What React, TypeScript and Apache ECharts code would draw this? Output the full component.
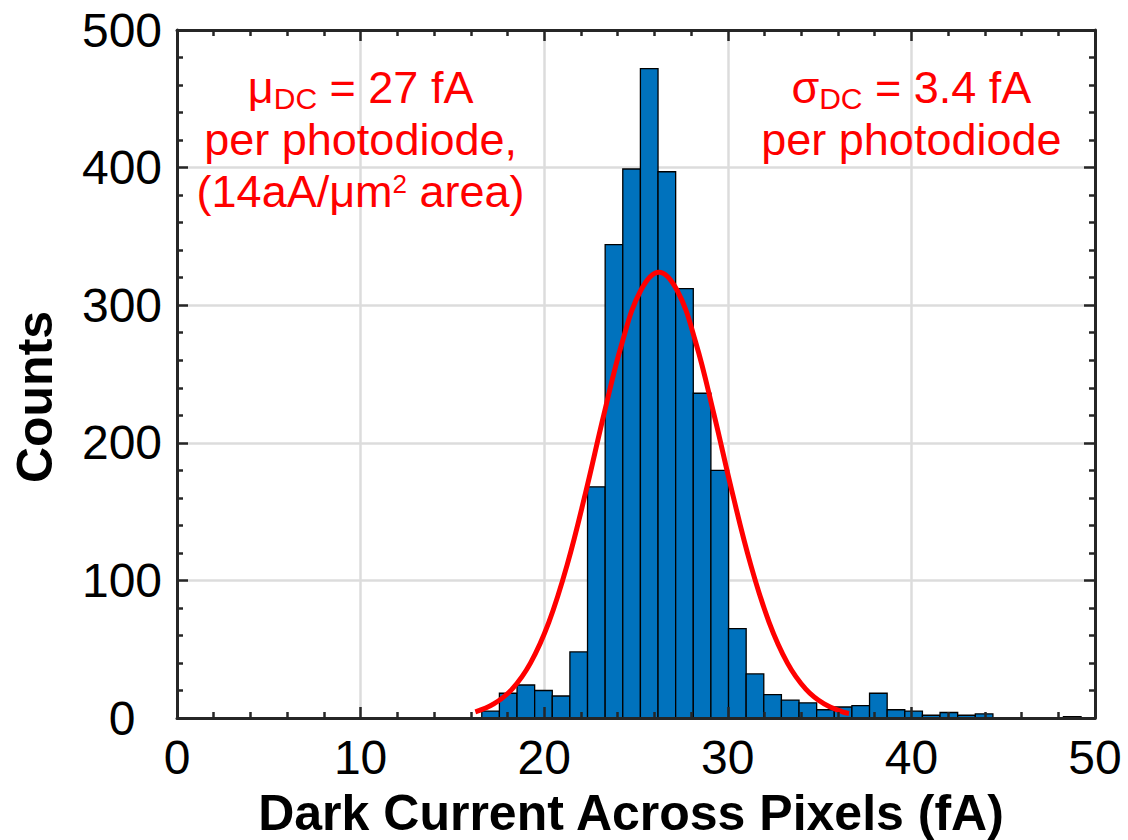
import React, { useEffect, useRef } from "react";
import * as echarts from "echarts";

// Histogram of dark current per pixel (fA), fixed-width bins
const binStart = 16.6;
const binWidth = 0.96;
const binCounts = [
  5, 18, 24, 20, 16, 48, 168, 344, 399, 472, 397, 312, 236, 180, 65, 32, 17,
  13, 11, 6, 8, 9, 18, 6, 5, 2, 4, 2, 3, 0, 0, 0, 0, 1,
];

// Gaussian fit curve, sampled points [fA, counts]
const fitX = [
  16.25, 17.25, 18.25, 19.25, 20.25, 21.25, 22.25, 23.25, 24.25, 25.25, 26.25,
  27.25, 28.25, 29.25, 30.25, 31.25, 32.25, 33.25, 34.25, 35.25, 36.25, 36.6,
];
const fitY = [
  4.5, 10.2, 21.0, 39.9, 69.5, 111.3, 163.5, 220.5, 273.1, 310.5, 324,
  310.5, 273.1, 220.5, 163.5, 111.3, 69.5, 39.9, 21.0, 10.2, 4.5, 3.3,
];

// Axis ranges and tick steps
const xRange = [0, 50];
const xStep = 10;
const yRange = [0, 500];
const yStep = 100;

const FONT = '"Liberation Sans", Arial, Helvetica, sans-serif';
const RED = "#FF0000";
const FRAME = "#262626";

const GRID = { left: 177, top: 30, right: 33, bottom: 122 };

function frameAxis(position: string, z = 10) {
  return {
    type: "value",
    position,
    min: 0,
    max: 0,
    z,
    axisLine: { show: true, onZero: false, lineStyle: { color: FRAME, width: 3 } },
    axisTick: { show: true, inside: true, length: 11, lineStyle: { color: FRAME, width: 2.5 } },
    minorTick: { show: true, splitNumber: 5, length: 6, lineStyle: { color: FRAME, width: 2.5 } },
    axisLabel: { show: false },
    splitLine: { show: false },
  };
}

export default function App() {
  const ref = useRef<HTMLDivElement>(null);

  useEffect(() => {
    if (!ref.current) return;
    const chart = echarts.init(ref.current, null, { renderer: "svg" });

    const bars = binCounts
      .map((c, i) => [binStart + i * binWidth, binStart + (i + 1) * binWidth, c])
      .filter((d) => d[2] > 0);
    const fit = fitX.map((x, i) => [x, fitY[i]]);

    const xFrame = (pos: string) => ({
      ...frameAxis(pos),
      min: xRange[0],
      max: xRange[1],
      interval: xStep,
    });
    const yFrame = (pos: string) => ({
      ...frameAxis(pos),
      min: yRange[0],
      max: yRange[1],
      interval: yStep,
    });

    const plotW = 1128 - GRID.left - GRID.right;
    const px = (v: number) => GRID.left + ((v - xRange[0]) / (xRange[1] - xRange[0])) * plotW;

    const richBase = { fontSize: 45, fontFamily: FONT, fill: RED, color: RED };

    chart.setOption({
      animation: false,
      backgroundColor: "#ffffff",
      grid: { ...GRID, containLabel: false, outerBoundsMode: "none" },
      xAxis: [
        {
          type: "value",
          position: "bottom",
          min: xRange[0],
          max: xRange[1],
          interval: xStep,
          z: 0,
          axisLine: { show: false },
          axisTick: { show: false },
          axisLabel: { show: true, margin: 15, fontSize: 48, fontFamily: FONT, color: "#000" },
          splitLine: { show: true, lineStyle: { color: "#dcdcdc", width: 2.5 } },
          name: "Dark Current Across Pixels (fA)",
          nameLocation: "middle",
          nameGap: 70,
          nameTextStyle: {
            fontSize: 50,
            fontWeight: "bold",
            fontFamily: FONT,
            color: "#000",
            padding: [0, 10, 0, 0],
          },
        },
        xFrame("bottom"),
        xFrame("top"),
      ],
      yAxis: [
        {
          type: "value",
          position: "left",
          min: yRange[0],
          max: yRange[1],
          interval: yStep,
          z: 0,
          axisLine: { show: false },
          axisTick: { show: false },
          axisLabel: { show: true, margin: 55, align: "center", fontSize: 48, fontFamily: FONT, color: "#000" },
          splitLine: { show: true, lineStyle: { color: "#dcdcdc", width: 2.5 } },
          name: "Counts",
          nameLocation: "middle",
          nameGap: 117,
          nameTextStyle: {
            fontSize: 50,
            fontWeight: "bold",
            fontFamily: FONT,
            color: "#000",
            padding: [0, 46, 0, 0],
          },
        },
        yFrame("left"),
        yFrame("right"),
      ],
      series: [
        {
          type: "custom",
          xAxisIndex: 0,
          yAxisIndex: 0,
          z: 3,
          data: bars,
          encode: { x: [0, 1], y: 2 },
          renderItem: (params: any, api: any) => {
            const x0 = api.value(0);
            const x1 = api.value(1);
            const c = api.value(2);
            const top = api.coord([x0, c]);
            const bottom = api.coord([x1, 0]);
            return {
              type: "rect",
              shape: {
                x: top[0],
                y: top[1],
                width: bottom[0] - top[0],
                height: bottom[1] - top[1],
              },
              style: { fill: "#0072BD", stroke: "#000000", lineWidth: 1.3 },
            };
          },
        },
        {
          type: "line",
          xAxisIndex: 0,
          yAxisIndex: 0,
          z: 4,
          data: fit,
          smooth: 0.4,
          showSymbol: false,
          symbol: "none",
          lineStyle: { color: RED, width: 5 },
        },
      ],
      graphic: [
        {
          type: "text",
          x: px(10),
          y: 61,
          z: 20,
          style: {
            text: "{m|μ}{s|DC}{m| = 27 fA}\n{m|per photodiode,}\n{m|(14aA/μm}{p|2}{m| area)}",
            align: "center",
            textAlign: "center",
            verticalAlign: "top",
            textVerticalAlign: "top",
            font: `45px ${FONT}`,
            fill: RED,
            rich: {
              m: { ...richBase, lineHeight: 52 },
              s: { ...richBase, fontSize: 30, lineHeight: 52, padding: [22, 0, 0, 0] },
              p: { ...richBase, fontSize: 26, lineHeight: 52, padding: [0, 0, 14, 0] },
            },
          },
        },
        {
          type: "text",
          x: px(40),
          y: 61,
          z: 20,
          style: {
            text: "{m|σ}{s|DC}{m| = 3.4 fA}\n{m|per photodiode}",
            align: "center",
            textAlign: "center",
            verticalAlign: "top",
            textVerticalAlign: "top",
            font: `45px ${FONT}`,
            fill: RED,
            rich: {
              m: { ...richBase, lineHeight: 52 },
              s: { ...richBase, fontSize: 30, lineHeight: 52, padding: [22, 0, 0, 0] },
            },
          },
        },
      ],
    });

    return () => chart.dispose();
  }, []);

  return (
    <div
      ref={ref}
      style={{ position: "absolute", left: 0, top: 0, width: 1128, height: 840, background: "#fff" }}
    />
  );
}
